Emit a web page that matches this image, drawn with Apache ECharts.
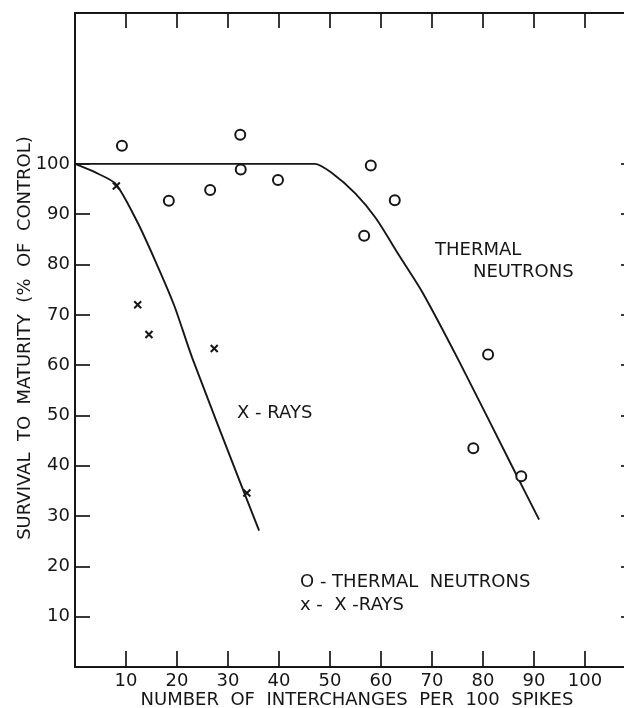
<!DOCTYPE html>
<html>
<head>
<meta charset="utf-8">
<script src="https://cdn.jsdelivr.net/npm/echarts@6/dist/echarts.min.js"></script>
<style>
  html, body { margin: 0; padding: 0; background: #fff; }
  #chart { width: 624px; height: 708px; }
</style>
</head>
<body>
<div id="chart"></div>
<script>
// tick values shown on the axes
const xTicks = [10, 20, 30, 40, 50, 60, 70, 80, 90, 100];
const yTicks = [10, 20, 30, 40, 50, 60, 70, 80, 90, 100];

// measured points: [interchanges per 100 spikes, survival %]
const thermalPoints = [
  [9.2, 103.6], [18.4, 92.7], [26.5, 94.8], [32.4, 105.8], [32.5, 98.9], [39.8, 96.8],
  [56.7, 85.7], [58.0, 99.7], [62.7, 92.8], [78.1, 43.5], [81.0, 62.1], [87.5, 37.9]
];
const xrayPoints = [
  [8.1, 95.6], [12.3, 72.0], [14.5, 66.1], [27.3, 63.3], [33.7, 34.6]
];

// hand-drawn fitted curves
const thermalCurve = [
  [0, 100], [30, 100], [47, 100], [50.5, 98.1], [55, 94.1], [59, 89.2], [63.5, 81.9],
  [68, 74.7], [75.3, 60.8], [85.7, 39.9], [91, 29.3]
];
const xrayCurve = [
  [0, 100], [4, 98.3], [8, 96], [12.2, 88.5], [15.8, 80.6], [19.4, 72], [23, 61.4],
  [32.5, 36.4], [36.1, 27.1]
];

const ink = '#161616';
const font = 'DejaVu Sans';
const textSize = 18;

const chart = echarts.init(document.getElementById('chart'), null, { renderer: 'canvas' });

const tickStyle = (len) => ({
  show: true, inside: true, length: len, customValues: xTicks,
  lineStyle: { color: ink, width: 1.7 }
});

const frameAxis = (extra) => Object.assign({
  type: 'value',
  splitLine: { show: false },
  axisLine: { show: true, onZero: false, lineStyle: { color: ink, width: 2 } },
  axisLabel: { show: false }
}, extra);

const annotation = (text, x, y, align) => ({
  type: 'text',
  x: x,
  y: y,
  style: {
    text: text,
    fill: ink,
    font: textSize + 'px "' + font + '"',
    textAlign: align || 'left',
    textVerticalAlign: 'middle'
  }
});

chart.setOption({
  animation: false,
  backgroundColor: '#fff',
  grid: { left: 75, top: 13, width: 561, height: 654, outerBoundsMode: 'none', containLabel: false },
  xAxis: [
    frameAxis({
      position: 'bottom', min: 0, max: 110, interval: 10,
      axisTick: tickStyle(16),
      axisLabel: { show: true, customValues: xTicks, margin: 5, color: ink, fontSize: textSize, fontFamily: font }
    }),
    frameAxis({
      position: 'top', min: 0, max: 110, interval: 10,
      axisTick: tickStyle(15)
    })
  ],
  yAxis: [
    frameAxis({
      position: 'left', min: 0, max: 130, interval: 10,
      axisTick: Object.assign(tickStyle(15), { customValues: yTicks }),
      axisLabel: { show: true, customValues: yTicks, margin: 5, color: ink, fontSize: textSize, fontFamily: font }
    }),
    frameAxis({
      position: 'right', min: 0, max: 130, interval: 10,
      axisTick: Object.assign(tickStyle(15), { customValues: yTicks })
    })
  ],
  series: [
    {
      name: 'THERMAL NEUTRONS fit',
      type: 'line',
      data: thermalCurve,
      smooth: 0.25,
      showSymbol: false,
      lineStyle: { color: ink, width: 1.9 },
      z: 2
    },
    {
      name: 'X-RAYS fit',
      type: 'line',
      data: xrayCurve,
      smooth: 0.25,
      showSymbol: false,
      lineStyle: { color: ink, width: 1.9 },
      z: 2
    },
    {
      name: 'THERMAL NEUTRONS',
      type: 'scatter',
      data: thermalPoints,
      symbol: 'circle',
      symbolSize: 10,
      itemStyle: { color: '#fff', borderColor: ink, borderWidth: 2, opacity: 1 },
      z: 3
    },
    {
      name: 'X-RAYS',
      type: 'scatter',
      data: xrayPoints,
      symbol: 'path://M0,0L10,10M10,0L0,10',
      symbolSize: 7,
      itemStyle: { color: 'rgba(0,0,0,0)', borderColor: ink, borderWidth: 2, opacity: 1 },
      z: 3
    }
  ],
  graphic: [
    {
      type: 'text',
      x: 25,
      y: 338,
      rotation: Math.PI / 2,
      style: {
        text: 'SURVIVAL  TO  MATURITY  (%  OF  CONTROL)',
        fill: ink,
        font: textSize + 'px "' + font + '"',
        textAlign: 'center',
        textVerticalAlign: 'middle'
      }
    },
    annotation('NUMBER  OF  INTERCHANGES  PER  100  SPIKES', 357, 700, 'center'),
    annotation('THERMAL', 435, 250),
    annotation('NEUTRONS', 473, 272),
    annotation('X - RAYS', 237, 413),
    annotation('O - THERMAL  NEUTRONS', 300, 582),
    annotation('x -  X -RAYS', 300, 605)
  ]
});
</script>
</body>
</html>
